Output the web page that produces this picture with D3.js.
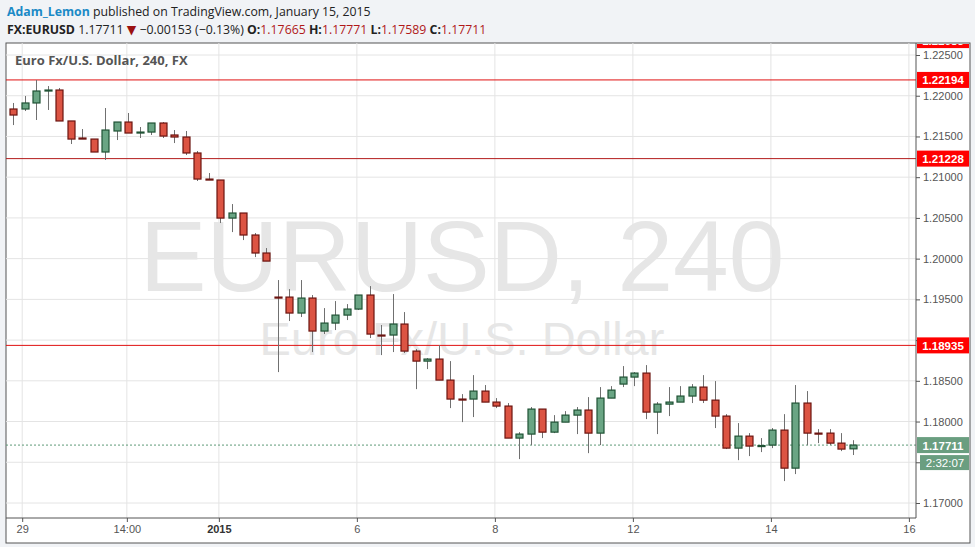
<!DOCTYPE html>
<html>
<head>
<meta charset="utf-8">
<script src="https://cdn.jsdelivr.net/npm/d3@7"></script>
<style>
body{margin:0;background:#f1f3f6;font-family:"Open Sans","DejaVu Sans",sans-serif;}
</style>
</head>
<body>
<svg id="chart" width="975" height="547"></svg>
<script>
// 4h candles, EURUSD, Dec 29 2014 - Jan 15 2015
var opens  = [1.21837,1.21837,1.21911,1.22058,1.22070,1.21690,1.21481,1.21468,1.21309,1.21567,1.21677,1.21542,1.21554,1.21665,1.21518,1.21493,1.21297,1.20977,1.20965,1.20498,1.20560,1.20290,1.20069,1.19528,1.19528,1.19332,1.19516,1.19111,1.19209,1.19307,1.19381,1.19553,1.19062,1.19062,1.19197,1.18865,1.18742,1.18767,1.18509,1.18276,1.18276,1.18374,1.18239,1.18190,1.17797,1.17846,1.18153,1.17870,1.17993,1.18079,1.18141,1.17858,1.18288,1.18460,1.18546,1.18595,1.18116,1.18214,1.18239,1.18313,1.18423,1.18263,1.18067,1.17674,1.17821,1.17699,1.17711,1.17895,1.17428,1.18227,1.17858,1.17858,1.17735,1.17665];
var highs  = [1.21911,1.21997,1.22193,1.22119,1.22095,1.21690,1.21591,1.21468,1.21849,1.21677,1.21788,1.21616,1.21665,1.21677,1.21579,1.21567,1.21321,1.21051,1.20965,1.20670,1.20560,1.20314,1.20130,1.19737,1.19626,1.19737,1.19553,1.19393,1.19479,1.19442,1.19504,1.19663,1.19185,1.19565,1.19344,1.18890,1.18779,1.18939,1.18742,1.18337,1.18570,1.18448,1.18288,1.18227,1.17870,1.18178,1.18153,1.18079,1.18128,1.18178,1.18300,1.18423,1.18435,1.18681,1.18607,1.18693,1.18239,1.18423,1.18435,1.18460,1.18570,1.18497,1.18091,1.17981,1.17858,1.17797,1.17920,1.18091,1.18448,1.18374,1.17907,1.17907,1.17858,1.17771];
var lows   = [1.21640,1.21812,1.21702,1.21825,1.21690,1.21407,1.21468,1.21309,1.21211,1.21456,1.21542,1.21481,1.21518,1.21481,1.21419,1.21272,1.20953,1.20965,1.20437,1.20326,1.20228,1.20019,1.19970,1.18607,1.19234,1.19283,1.18853,1.19074,1.19123,1.19246,1.19369,1.19025,1.18816,1.18853,1.18841,1.18398,1.18644,1.18509,1.18165,1.17993,1.18055,1.18239,1.18165,1.17797,1.17539,1.17711,1.17797,1.17858,1.17993,1.17846,1.17612,1.17711,1.18288,1.18423,1.18435,1.18030,1.17846,1.18067,1.18239,1.18227,1.18227,1.17920,1.17662,1.17526,1.17576,1.17625,1.17674,1.17269,1.17355,1.17711,1.17735,1.17711,1.17637,1.17589];
var closes = [1.21763,1.21911,1.22058,1.22070,1.21690,1.21468,1.21468,1.21309,1.21579,1.21677,1.21542,1.21554,1.21665,1.21505,1.21493,1.21297,1.20977,1.20965,1.20498,1.20560,1.20290,1.20069,1.19970,1.19516,1.19332,1.19516,1.19111,1.19209,1.19307,1.19381,1.19553,1.19074,1.19056,1.19197,1.18865,1.18742,1.18767,1.18509,1.18276,1.18270,1.18374,1.18239,1.18190,1.17797,1.17846,1.18153,1.17870,1.17993,1.18079,1.18141,1.17858,1.18288,1.18386,1.18546,1.18595,1.18116,1.18214,1.18239,1.18313,1.18423,1.18263,1.18067,1.17674,1.17821,1.17699,1.17705,1.17895,1.17428,1.18227,1.17858,1.17852,1.17735,1.17662,1.17711];

var priceTicks = [1.170,1.175,1.180,1.185,1.190,1.195,1.200,1.205,1.210,1.215,1.220,1.225];
var hiddenTicks = [1.175, 1.190]; // covered by price labels
var timeTicks = [0.8, 9.9, 17.9, 29.9, 41.9, 53.9, 65.9, 77.9];
var timeLabels = ["29","14:00","2015","6","8","12","14","16"];
var levels = [1.22194, 1.21228, 1.18935];
var lastPrice = 1.17711;
var timer = "2:32:07";
var topCutLevel = 1.22683;

var svg = d3.select("#chart");
var pLeft = 6, pRight = 916, pTop = 43, pBottom = 518;

var x = d3.scaleLinear().domain([0, 78.3]).range([13, 913.5]);
var y = d3.scaleLinear().domain([1.170, 1.225]).range([503, 55]);

// header
var h1 = svg.append("text").attr("x", 7).attr("y", 16).style("font-size", "12.3px");
h1.append("tspan").attr("fill", "#1b8ac6").attr("font-weight", "bold").text("Adam_Lemon");
h1.append("tspan").attr("fill", "#222").text(" published on TradingView.com, January 15, 2015");
var h2 = svg.append("text").attr("x", 7).attr("y", 34).style("font-size", "12.3px").attr("fill", "#222");
h2.append("tspan").attr("font-weight", "bold").text("FX:EURUSD");
h2.append("tspan").text(" 1.17711 ");
h2.append("tspan").attr("fill", "#9b1111").text("\u25BC");
h2.append("tspan").text(" \u22120.00153 (\u22120.13%) ");
[["O:", "1.17665"], ["H:", "1.17771"], ["L:", "1.17589"], ["C:", "1.17711"]].forEach(function(p){
	h2.append("tspan").attr("font-weight", "bold").text(p[0]);
	h2.append("tspan").attr("fill", "#b01818").text(p[1] + " ");
});

// panel
svg.append("rect").attr("x", 6).attr("y", 43).attr("width", 964).attr("height", 500)
	.attr("fill", "#fff").attr("stroke", "#555");
svg.append("defs").append("clipPath").attr("id", "clip")
	.append("rect").attr("x", pLeft).attr("y", pTop).attr("width", pRight - pLeft).attr("height", pBottom - pTop);
var plot = svg.append("g").attr("clip-path", "url(#clip)");

// grid
plot.selectAll(".hg").data(priceTicks).enter().append("line")
	.attr("x1", pLeft).attr("x2", pRight).attr("y1", d => y(d)).attr("y2", d => y(d))
	.attr("stroke", "#e4e4e4");
plot.selectAll(".vg").data(timeTicks).enter().append("line")
	.attr("x1", d => x(d)).attr("x2", d => x(d)).attr("y1", pTop).attr("y2", pBottom)
	.attr("stroke", "#e4e4e4");

// watermark
plot.append("text").attr("x", 462).attr("y", 291).attr("text-anchor", "middle")
	.style("font-size", "100px").attr("fill", "#e6e6e6").style("font-family", "'Liberation Sans',Arial,sans-serif")
	.text("EURUSD, 240");
plot.append("text").attr("x", 462).attr("y", 355).attr("text-anchor", "middle")
	.style("font-size", "47px").attr("fill", "#e6e6e6").style("font-family", "'Liberation Sans',Arial,sans-serif")
	.text("Euro Fx/U.S. Dollar");

plot.append("text").attr("x", 15).attr("y", 65).style("font-size", "13px").attr("font-weight", "bold")
	.attr("fill", "#555").text("Euro Fx/U.S. Dollar, 240, FX");

// levels
plot.selectAll(".lv").data(levels).enter().append("line")
	.attr("x1", pLeft).attr("x2", pRight).attr("y1", d => y(d)).attr("y2", d => y(d))
	.attr("stroke", (d, i) => i == 1 ? "#b31b1b" : "#e01010").attr("stroke-width", 1);
plot.append("line").attr("x1", pLeft).attr("x2", pRight).attr("y1", y(lastPrice)).attr("y2", y(lastPrice))
	.attr("stroke", "#5d9a78").attr("stroke-dasharray", "2,2");

// candles
var idx = d3.range(opens.length);
plot.selectAll(".wick").data(idx).enter().append("line")
	.attr("x1", i => Math.round(x(i)) + 0.5).attr("x2", i => Math.round(x(i)) + 0.5)
	.attr("y1", i => y(highs[i])).attr("y2", i => y(lows[i]))
	.attr("stroke", "#707070");
plot.selectAll(".body").data(idx).enter().append("rect")
	.attr("x", i => Math.round(x(i)) - 3)
	.attr("width", 7)
	.attr("y", i => y(Math.max(opens[i], closes[i])))
	.attr("height", i => Math.max(1, Math.abs(y(opens[i]) - y(closes[i]))))
	.attr("fill", i => closes[i] >= opens[i] ? "#6aa584" : "#dc5443")
	.attr("stroke", i => closes[i] >= opens[i] ? "#1f5234" : "#6b1410")
	.attr("stroke-width", 1.2);

// axes frame
svg.append("line").attr("x1", pRight).attr("x2", pRight).attr("y1", pTop).attr("y2", pBottom).attr("stroke", "#555");
svg.append("line").attr("x1", pLeft).attr("x2", pRight).attr("y1", pBottom).attr("y2", pBottom).attr("stroke", "#555");

var yAxis = svg.append("g").attr("transform", "translate(" + pRight + ",0)")
	.call(d3.axisRight(y).tickValues(priceTicks)
		.tickFormat(d => hiddenTicks.indexOf(d) == -1 ? d3.format(".5f")(d) : "")
		.tickSize(4).tickSizeOuter(0));
yAxis.select(".domain").remove();
yAxis.selectAll("text").attr("fill", "#555").style("font-size", "11px").style("font-family", "'Liberation Sans',Arial,sans-serif");
yAxis.selectAll("line").attr("stroke", "#555");

var xAxis = svg.append("g").attr("transform", "translate(0," + pBottom + ")")
	.call(d3.axisBottom(x).tickValues(timeTicks).tickFormat((d, i) => timeLabels[i]).tickSize(4).tickSizeOuter(0));
xAxis.select(".domain").remove();
xAxis.selectAll("text").style("font-size", "11px").style("font-family", "'Liberation Sans',Arial,sans-serif")
	.attr("font-weight", (d, i) => timeLabels[i] == "2015" ? "bold" : null).attr("fill", (d, i) => timeLabels[i] == "2015" ? "#333" : "#555");
xAxis.selectAll("line").attr("stroke", "#555");

// price labels
svg.append("defs").append("clipPath").attr("id", "labclip")
	.append("rect").attr("x", pRight).attr("y", pTop + 1).attr("width", 60).attr("height", pBottom - pTop);
var labels = svg.append("g").attr("clip-path", "url(#labclip)");
function priceLabel(v, txt, fill){
	var cy = y(v);
	labels.append("rect").attr("x", pRight + 1).attr("y", cy - 8).attr("width", 52).attr("height", 16).attr("fill", fill);
	labels.append("text").attr("x", pRight + 27).attr("y", cy + 4.5).attr("text-anchor", "middle")
		.attr("fill", "#fff").style("font-size", "11.5px").attr("font-weight", "bold")
		.style("font-family", "'Liberation Sans',Arial,sans-serif").text(txt);
}
priceLabel(topCutLevel, topCutLevel.toFixed(5), "#f00");
levels.forEach(function(v){ priceLabel(v, v.toFixed(5), "#f00"); });
priceLabel(lastPrice, lastPrice.toFixed(5), "#6a9e80");
labels.append("rect").attr("x", pRight + 4).attr("y", y(lastPrice) + 10).attr("width", 49).attr("height", 15).attr("fill", "#6a9e80");
labels.append("text").attr("x", pRight + 29).attr("y", y(lastPrice) + 22).attr("text-anchor", "middle")
	.attr("fill", "#fff").style("font-size", "11.5px").style("font-family", "'Liberation Sans',Arial,sans-serif").text(timer);
</script>
</body>
</html>
